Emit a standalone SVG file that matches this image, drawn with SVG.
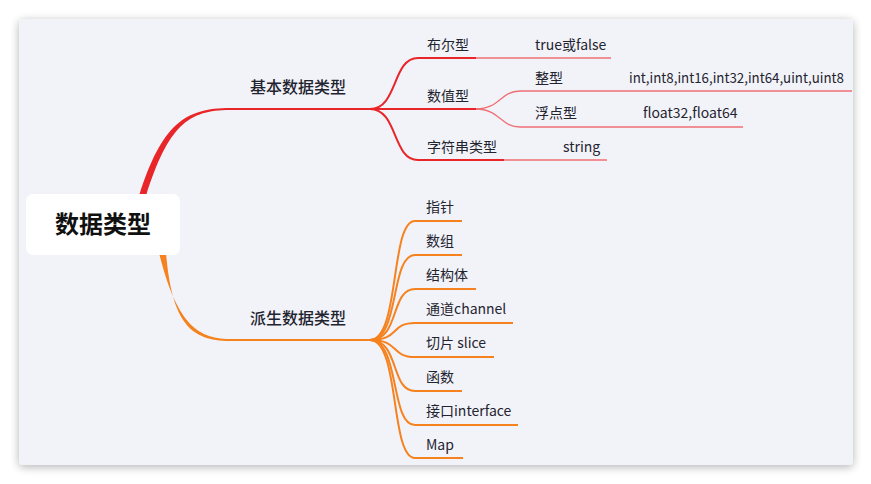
<svg xmlns="http://www.w3.org/2000/svg" width="871" height="484" viewBox="0 0 871 484">
<defs>
<filter id="sh" x="-5%" y="-5%" width="110%" height="112%">
<feGaussianBlur in="SourceAlpha" stdDeviation="5"/>
<feOffset dx="0" dy="2"/>
<feComponentTransfer><feFuncA type="linear" slope="0.3"/></feComponentTransfer>
<feMerge><feMergeNode/><feMergeNode in="SourceGraphic"/></feMerge>
</filter>
<style>
text{font-family:"Noto Sans CJK SC","Noto Sans",sans-serif;fill:#1f2430;}
.t1{font-size:24px;font-weight:700;fill:#111;}
.t2{font-size:16px;font-weight:500;}
.t3{font-size:14px;}
.r{fill:none;stroke:#e8262a;stroke-width:2;}
.rl{fill:none;stroke:#ef6f74;stroke-width:1.3;}
.o{fill:none;stroke:#f5821f;stroke-width:2;}
</style>
</defs>
<rect width="871" height="484" fill="#ffffff"/>
<rect x="19" y="19" width="834" height="446" rx="4" fill="#f2f3f8" filter="url(#sh)"/>
<g id="connectors">
<path d="M139,196 C162,124 185,108 230,108 L230,110 C188,110 168,126 146,196 Z" fill="#e8262a"/>
<path class="r" d="M229,109 L372,109"/>
<path d="M159,253 C176,320 195,339 230,339 L230,341 C190,341 172,322 166,253 Z" fill="#f5821f"/>
<path class="o" d="M229,340 L372,340"/>
<path class="r" d="M370,109 C398,109 392,58 418,58 L476,58"/>
<path class="rl" d="M476,58 L611,58"/>
<path class="r" d="M370,109 L476,109"/>
<path class="r" d="M370,109 C398,109 392,160 418,160 L504,160"/>
<path class="rl" d="M504,160 L607,160"/>
<path class="rl" d="M476,109 C500,109 500,91 520,91 L852,91"/>
<path class="rl" d="M476,109 C500,109 500,127 520,127 L743,127"/>
<path class="o" d="M370,340 C400,340 390,221 415,221 L462,221"/>
<path class="o" d="M370,340 C400,340 390,255 415,255 L462,255"/>
<path class="o" d="M370,340 C400,340 390,289 415,289 L476,289"/>
<path class="o" d="M370,340 C400,340 390,323 415,323 L513,323"/>
<path class="o" d="M370,340 C400,340 390,357 415,357 L494,357"/>
<path class="o" d="M370,340 C400,340 390,391 415,391 L462,391"/>
<path class="o" d="M370,340 C400,340 390,425 415,425 L518,425"/>
<path class="o" d="M370,340 C400,340 390,458 415,458 L463,458"/>
</g>
<g id="root">
<rect x="26" y="194" width="154" height="61" rx="7" fill="#ffffff"/>
<text class="t1" x="103" y="233" text-anchor="middle">数据类型</text>
</g>
<g id="n-basic"><text class="t2" x="250" y="93">基本数据类型</text></g>
<g id="n-derived"><text class="t2" x="250" y="324">派生数据类型</text></g>
<g id="n-bool"><text class="t3" x="427" y="50">布尔型</text></g>
<g id="n-bool-v"><text class="t3" x="535" y="50">true或false</text></g>
<g id="n-num"><text class="t3" x="427" y="101">数值型</text></g>
<g id="n-int"><text class="t3" x="535" y="83">整型</text></g>
<g id="n-int-v"><text class="t3" x="629" y="83" textLength="215" lengthAdjust="spacingAndGlyphs">int,int8,int16,int32,int64,uint,uint8</text></g>
<g id="n-float"><text class="t3" x="535" y="118">浮点型</text></g>
<g id="n-float-v"><text class="t3" x="643" y="118">float32,float64</text></g>
<g id="n-str"><text class="t3" x="427" y="152">字符串类型</text></g>
<g id="n-str-v"><text class="t3" x="563" y="152">string</text></g>
<g id="n-ptr"><text class="t3" x="426" y="212">指针</text></g>
<g id="n-arr"><text class="t3" x="426" y="246">数组</text></g>
<g id="n-struct"><text class="t3" x="426" y="280">结构体</text></g>
<g id="n-chan"><text class="t3" x="426" y="314">通道channel</text></g>
<g id="n-slice"><text class="t3" x="426" y="348">切片 slice</text></g>
<g id="n-func"><text class="t3" x="426" y="382">函数</text></g>
<g id="n-iface"><text class="t3" x="426" y="416">接口interface</text></g>
<g id="n-map"><text class="t3" x="426" y="450">Map</text></g>
</svg>
